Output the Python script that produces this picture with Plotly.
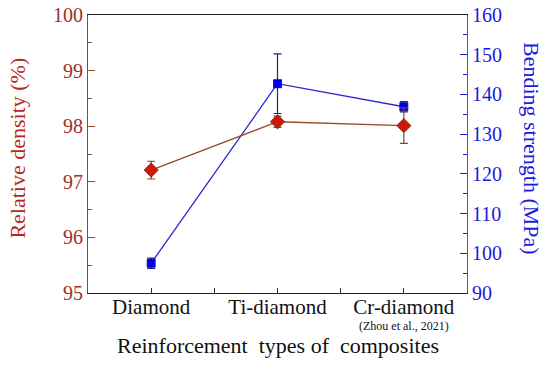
import plotly.graph_objects as go

categories = ["Diamond", "Ti-diamond", "Cr-diamond"]
density = [97.21, 98.08, 98.01]
density_err = [0.16, 0.10, 0.32]
strength = [97.5, 142.7, 136.9]
strength_err = [1.3, 7.5, 1.3]

xpos = list(range(len(categories)))
RED = "#B52A20"
BLUE = "#1A1AE0"
FONT = "Liberation Serif"

fig = go.Figure()
# blue (bending strength) on base axis (right side)
fig.add_trace(go.Scatter(
    x=xpos, y=strength, yaxis="y", mode="lines+markers",
    line=dict(color="#2B2BD0", width=1.3),
    marker=dict(symbol="square", size=8, color="#0000F0", line=dict(color="#00008B", width=0.8)),
    error_y=dict(type="data", array=strength_err, color="#222288", thickness=1.2, width=4),
    showlegend=False))
# red (relative density) on overlay axis (left side)
fig.add_trace(go.Scatter(
    x=xpos, y=density, yaxis="y2", mode="lines+markers",
    line=dict(color="#9A4A25", width=1.3),
    marker=dict(symbol="diamond", size=11, color="#CC1A0A", line=dict(color="#7A2A10", width=0.8)),
    error_y=dict(type="data", array=density_err, color="#7A4A30", thickness=1.2, width=4),
    showlegend=False))

tickvals = [-0.5, 0, 0.5, 1, 1.5, 2, 2.5]
ticktext = ["", categories[0], "", categories[1], "", categories[2], ""]

fig.update_layout(
    width=550, height=365,
    margin=dict(l=88, r=83, t=15, b=72),
    paper_bgcolor="white", plot_bgcolor="white",
    font=dict(family=FONT),
    xaxis=dict(range=[-0.5, 2.5], tickvals=tickvals, ticktext=ticktext, automargin=False,
               ticks="inside", ticklen=5, tickcolor="#333333", tickwidth=1,
               ticklabelstandoff=-5,
               showline=True, linecolor="#222222", linewidth=1.2, mirror=True,
               showgrid=False, zeroline=False,
               tickfont=dict(family=FONT, size=21, color="#111111")),
    yaxis=dict(side="right", range=[90, 160], dtick=10, tick0=90, automargin=False,
               ticks="inside", ticklen=7, tickcolor=BLUE, tickwidth=1,
               minor=dict(dtick=5, ticks="inside", ticklen=4, tickcolor=BLUE),
               showline=True, linecolor="#5050F0", linewidth=1.2,
               showgrid=False, zeroline=False,
               tickfont=dict(family=FONT, size=20, color=BLUE)),
    yaxis2=dict(side="left", overlaying="y", range=[95, 100], dtick=1, tick0=95, automargin=False,
                ticks="inside", ticklen=7, tickcolor="#8B4A2A", tickwidth=1,
                minor=dict(dtick=0.5, ticks="inside", ticklen=4, tickcolor="#8B4A2A"),
                showline=True, linecolor="#8B4A2A", linewidth=1.2,
                showgrid=False, zeroline=False,
                tickfont=dict(family=FONT, size=20, color="#A0301F")),
    annotations=[
        dict(text="Relative density (%)", xref="paper", yref="paper", x=-0.187, y=0.52,
             xanchor="center", yanchor="middle", textangle=-90, showarrow=False,
             font=dict(family=FONT, size=22, color=RED)),
        dict(text="Bending strength (MPa)", xref="paper", yref="paper", x=1.17, y=0.52,
             xanchor="center", yanchor="middle", textangle=90, showarrow=False,
             font=dict(family=FONT, size=22, color=BLUE)),
        dict(text="Reinforcement&nbsp;&nbsp;types of&nbsp;&nbsp;composites", xref="paper", yref="paper",
             x=0.5, y=-0.19, xanchor="center", yanchor="middle", showarrow=False, borderpad=0,
             font=dict(family=FONT, size=22, color="#111111")),
        dict(text="(Zhou et al., 2021)", xref="x", yref="paper", x=2, y=-0.117,
             xanchor="center", yanchor="middle", showarrow=False, borderpad=0,
             font=dict(family=FONT, size=12, color="#111111")),
    ],
)

fig.write_html("out.html", config={"displayModeBar": False},
               post_script="document.body.style.margin='0';")
